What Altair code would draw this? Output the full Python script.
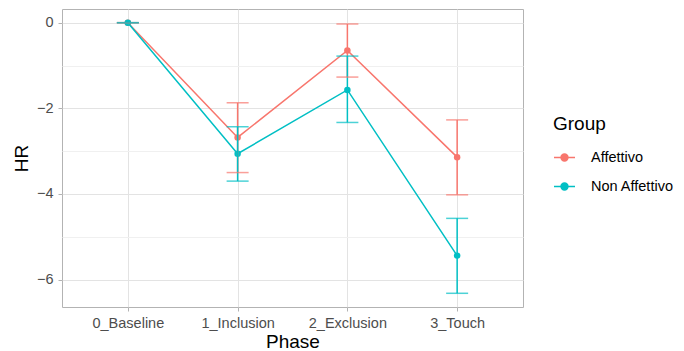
import altair as alt
import pandas as pd

phases = ["0_Baseline", "1_Inclusion", "2_Exclusion", "3_Touch"]
groups = ["Affettivo", "Non Affettivo"]
aff_mean = [0.0, -2.68, -0.65, -3.14]
aff_lo = [0.0, -3.50, -1.27, -4.02]
aff_hi = [0.0, -1.87, -0.03, -2.27]
non_mean = [0.0, -3.06, -1.57, -5.44]
non_lo = [0.0, -3.70, -2.33, -6.32]
non_hi = [0.0, -2.43, -0.78, -4.57]
y_ticks = [-6, -5, -4, -3, -2, -1, 0]
colors = ["#F8766D", "#00BFC4"]

rows = []
for g, m, lo, hi in [(groups[0], aff_mean, aff_lo, aff_hi),
                     (groups[1], non_mean, non_lo, non_hi)]:
    for p, a, b, c in zip(phases, m, lo, hi):
        rows.append({"Phase": p, "Group": g, "HR": a, "lo": b, "hi": c})
df = pd.DataFrame(rows)

FONT = "Liberation Sans"

x_enc = alt.X(
    "Phase:N",
    scale=alt.Scale(type="point", padding=0.6, domain=phases),
    axis=alt.Axis(title="Phase", labelAngle=0, grid=True, gridColor="#E3E3E3",
                  gridWidth=1, domain=False, ticks=True, tickColor="#B3B3B3",
                  tickSize=4, labelPadding=5, titlePadding=3),
)
y_scale = alt.Scale(domain=[-6.64, 0.32], nice=False, zero=False)
y_axis = alt.Axis(
    title="HR", values=y_ticks, grid=True,
    gridColor=alt.condition("datum.value % 2 == 0", alt.value("#E3E3E3"), alt.value("#F0F0F0")),
    tickColor=alt.condition("datum.value % 2 == 0", alt.value("#B3B3B3"), alt.value("transparent")),
    labelExpr="datum.value % 2 == 0 ? datum.label : ''",
    domain=False, tickSize=4, labelPadding=5, titlePadding=5,
)

stroke_scale = alt.Scale(domain=groups, range=colors)
legend = alt.Legend(
    title="Group", orient="none", legendX=491, legendY=106,
    symbolType="M-1,0H1M0.33,0A0.33,0.33,0,1,1,-0.33,0A0.33,0.33,0,1,1,0.33,0",
    symbolSize=441, symbolStrokeWidth=1.5, labelOffset=15, rowPadding=11,
    titlePadding=12, padding=0,
)

base = alt.Chart(df)
points = base.mark_circle(size=42, opacity=1).encode(
    x=x_enc, y=alt.Y("HR:Q", scale=y_scale, axis=y_axis),
    fill=alt.Fill("Group:N", scale=stroke_scale, legend=legend),
)
lines = base.mark_line(strokeWidth=1.5).encode(
    x=x_enc, y=alt.Y("HR:Q", scale=y_scale, axis=y_axis),
    stroke=alt.Stroke("Group:N", scale=stroke_scale, legend=legend),
    detail="Group:N",
)
rules = base.mark_rule(strokeWidth=1.5).encode(
    x=x_enc, y=alt.Y("lo:Q", scale=y_scale, axis=y_axis), y2="hi:Q",
    stroke=alt.Stroke("Group:N", scale=stroke_scale, legend=legend),
)
cap_lo = base.mark_tick(thickness=1.5, size=22).encode(
    x=x_enc, y=alt.Y("lo:Q", scale=y_scale, axis=y_axis),
    color=alt.Color("Group:N", scale=stroke_scale, legend=None),
)
cap_hi = base.mark_tick(thickness=1.5, size=22).encode(
    x=x_enc, y=alt.Y("hi:Q", scale=y_scale, axis=y_axis),
    color=alt.Color("Group:N", scale=stroke_scale, legend=None),
)

chart = alt.layer(points, lines, rules, cap_lo, cap_hi).properties(
    width=461, height=298,
    autosize=alt.AutoSizeParams(type="none"),
    padding={"left": 54, "top": 1, "right": 153, "bottom": 44},
    background="white",
).configure_view(
    stroke="#B3B3B3", strokeWidth=1,
).configure_axis(
    labelFont=FONT, labelFontSize=14.5, labelColor="#4D4D4D",
    titleFont=FONT, titleFontSize=19, titleFontWeight="normal", titleColor="#000000",
).configure_legend(
    titleFont=FONT, titleFontSize=19, titleFontWeight="normal", titleColor="#000000",
    labelFont=FONT, labelFontSize=14.5, labelColor="#000000",
)

chart.save("out.html", embed_options={"renderer": "svg", "actions": False})
